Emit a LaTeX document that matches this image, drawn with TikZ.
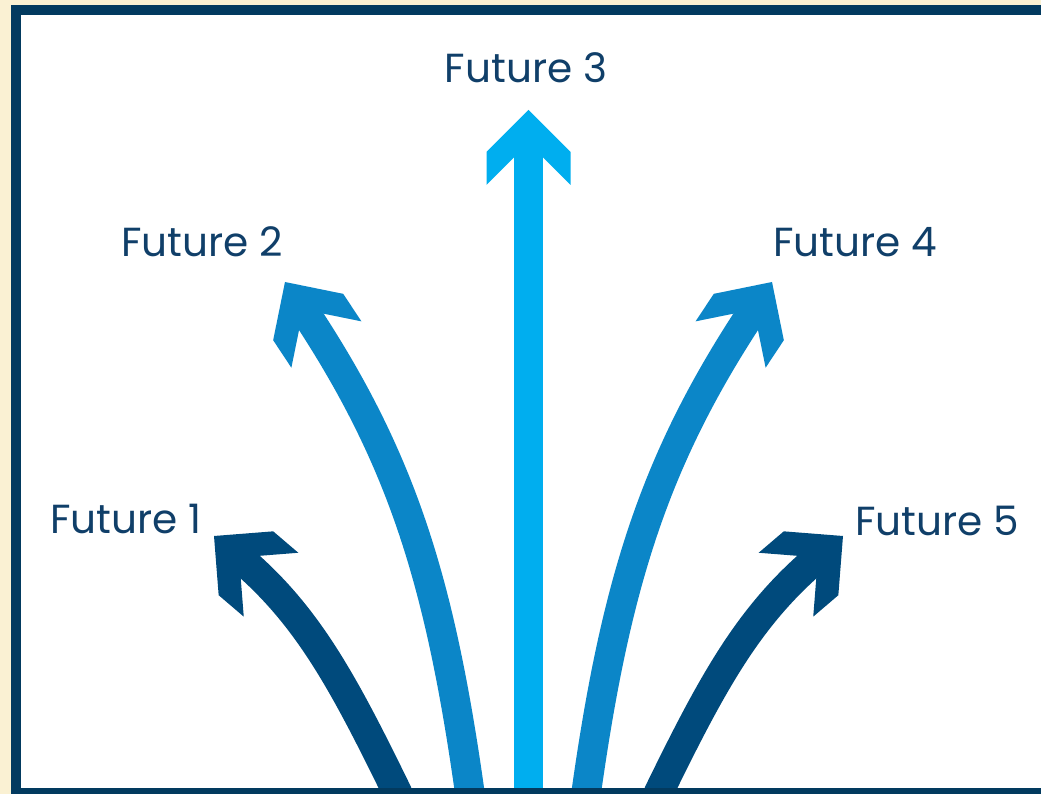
\documentclass[tikz,border=0pt]{standalone}
\usepackage{fontspec}
\setmainfont{Poppins}
\usetikzlibrary{arrows.meta,positioning,calc}

\definecolor{cream}{HTML}{FAF1D3}
\definecolor{frame}{HTML}{023A5F}
\definecolor{deep}{HTML}{004A7C}
\definecolor{mid}{HTML}{0B86C8}
\definecolor{sky}{HTML}{00AEEF}
\definecolor{ink}{HTML}{103F69}

\pgfdeclarearrow{
  name = Chevron,
  setup code = {
    \pgfarrowssettipend{0pt}
    \pgfarrowssetlineend{-18pt}
    \pgfarrowssetbackend{-37.5pt}
    \pgfarrowssetvisualbackend{-37.5pt}
  },
  drawing code = {
    \pgfpathmoveto{\pgfqpoint{0pt}{0pt}}
    \pgfpathlineto{\pgfqpoint{-21pt}{21pt}}
    \pgfpathlineto{\pgfqpoint{-37.5pt}{21pt}}
    \pgfpathlineto{\pgfqpoint{-23.75pt}{7.25pt}}
    \pgfpathlineto{\pgfqpoint{-23.75pt}{-7.25pt}}
    \pgfpathlineto{\pgfqpoint{-37.5pt}{-21pt}}
    \pgfpathlineto{\pgfqpoint{-21pt}{-21pt}}
    \pgfpathclose
    \pgfusepathqfill
  }
}

\begin{document}
\begin{tikzpicture}[x=0.5pt,y=0.5pt,
            path/.style={line width=14.8pt, -{Chevron}},
            future/.style={text=ink, inner sep=0pt, font=\fontsize{20.3}{24}\selectfont}]

            \useasboundingbox (0,0) rectangle (1041,794);
            \fill [cream] (0,0) rectangle (1041,794);
            \fill [frame] (11,0) rectangle (1041,789);
            \fill [white] (21,6) rectangle (1041,779);

            \coordinate (b1) at (398,0);
            \coordinate (b2) at (470,0);
            \coordinate (b3) at (528.5,0);
            \coordinate (b4) at (586,0);
            \coordinate (b5) at (658,0);

            \coordinate (t1) at (214,258);
            \coordinate (t2) at (285,512);
            \coordinate (t3) at (528.5,684);
            \coordinate (t4) at (772,512);
            \coordinate (t5) at (843,258);

            \begin{scope}
            \clip (21,6) rectangle (1041,779);
            \draw [path,color=deep] (b1) to[out=116,in=-40.5] (t1);
            \draw [path,color=mid] (b2) to[out=98,in=-56.5] (t2);
            \draw [path,color=sky] (b3) -- (t3);
            \draw [path,color=mid] (b4) to[out=82,in=-123.5] (t4);
            \draw [path,color=deep] (b5) to[out=64,in=-139.5] (t5);
            \end{scope}

            \node [future] (f1) at (126,275) {Future 1};
            \node [future] (f2) at (202,552) {Future 2};
            \node [future] (f3) at (526,726) {Future 3};
            \node [future] (f4) at (855,552) {Future 4};
            \node [future] (f5) at (937,273) {Future 5};
\end{tikzpicture}
\end{document}
